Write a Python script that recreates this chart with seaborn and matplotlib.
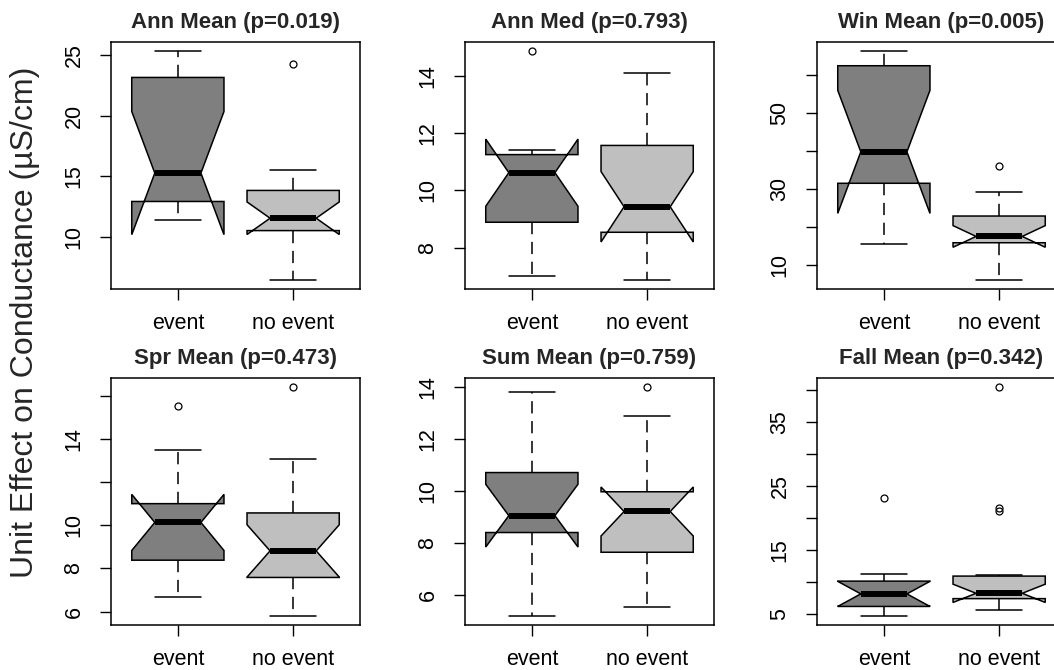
import numpy as np
import pandas as pd
import matplotlib
matplotlib.use("Agg")
import matplotlib.pyplot as plt
import seaborn as sns

# groups and panel titles
groups = ["event", "no event"]
titles = ["Ann Mean (p=0.019)", "Ann Med (p=0.793)", "Win Mean (p=0.005)",
          "Spr Mean (p=0.473)", "Sum Mean (p=0.759)", "Fall Mean (p=0.342)"]

ann_mean_event = [11.4, 12.2, 12.9, 13.06, 14.6, 15.96, 22.9, 23.25, 24.1, 25.33]
ann_mean_none = [6.48, 8.9, 9.8, 10.4, 10.68, 11.0, 11.3, 11.56, 12.2, 12.9,
                 13.6, 14.1, 14.9, 15.56, 24.23]
ann_med_event = [7.03, 8.1, 8.85, 9.01, 10.5, 10.74, 11.19, 11.27, 11.42, 14.86]
ann_med_none = [6.88, 7.6, 8.2, 8.45, 8.63, 8.9, 9.2, 9.43, 9.9, 10.6,
                11.4, 11.74, 12.3, 13.0, 14.11]
win_mean_event = [15.6, 24.0, 31.62, 35.5, 39.89, 50.2, 62.56, 64.8, 66.4]
win_mean_none = [6.2, 11.5, 14.8, 15.8, 16.14, 16.6, 17.1, 17.63, 18.5, 20.2,
                 22.6, 23.4, 25.1, 29.3, 36.2]
spr_mean_event = [6.68, 7.6, 8.34, 8.5, 9.9, 10.36, 10.94, 11.02, 13.49, 15.52]
spr_mean_none = [5.8, 6.6, 7.2, 7.5, 7.66, 8.1, 8.5, 8.81, 9.3, 9.9,
                 10.4, 10.74, 11.6, 13.06, 16.4]
sum_mean_event = [5.19, 7.1, 8.4, 8.8, 9.05, 9.7, 10.71, 12.2, 13.83]
sum_mean_none = [5.53, 6.4, 7.1, 7.5, 7.78, 8.4, 8.9, 9.21, 9.4, 9.7,
                 9.86, 10.08, 11.2, 12.87, 14.0]
fall_mean_event = [4.68, 5.6, 6.1, 6.3, 7.7, 8.52, 10.05, 10.12, 11.16, 23.1]
fall_mean_none = [5.63, 6.5, 7.1, 7.3, 7.44, 7.7, 7.9, 8.2, 8.9, 9.8,
                  10.78, 11.0, 21.0, 21.5, 40.4]

panels = [(ann_mean_event, ann_mean_none), (ann_med_event, ann_med_none),
          (win_mean_event, win_mean_none), (spr_mean_event, spr_mean_none),
          (sum_mean_event, sum_mean_none), (fall_mean_event, fall_mean_none)]

# y ticks (R drops labels that would overlap)
yticks = [[10, 15, 20, 25], [8, 10, 12, 14], [10, 20, 30, 40, 50, 60],
          [6, 8, 10, 12, 14, 16], [6, 8, 10, 12, 14], [5, 10, 15, 20, 25, 30, 35, 40]]
ylabels = [["10", "15", "20", "25"], ["8", "10", "12", "14"],
           ["10", "", "30", "", "50", ""], ["6", "8", "10", "", "14", ""],
           ["6", "8", "10", "12", "14"], ["5", "", "15", "", "25", "", "35", ""]]

colors = ["#7F7F7F", "#BFBFBF"]

sns.set_theme(style="ticks")
plt.rcParams["font.family"] = ["Liberation Sans", "DejaVu Sans"]

fig = plt.figure(figsize=(10.54, 6.7), dpi=100)
W, H = 1054.0, 670.0
lefts = [111, 465, 817]
tops = [42, 378]
pw, ph = 249, 247

for i, (ev, ne) in enumerate(panels):
    r, c = divmod(i, 3)
    ax = fig.add_axes([lefts[c] / W, 1 - (tops[r] + ph) / H, pw / W, ph / H])
    df = pd.DataFrame({"group": [groups[0]] * len(ev) + [groups[1]] * len(ne),
                       "value": ev + ne})
    sns.boxplot(data=df, x="group", y="value", hue="group", palette=colors,
                order=groups, hue_order=groups, legend=False, ax=ax,
                notch=True, width=0.8, saturation=1, linecolor="black",
                linewidth=1.1,
                whiskerprops=dict(linestyle=(0, (8, 5))),
                medianprops=dict(linewidth=4.3, color="black", solid_capstyle="butt"),
                flierprops=dict(marker="o", markerfacecolor="none",
                                markeredgecolor="black", markersize=5,
                                markeredgewidth=0.9))
    vals = np.array(ev + ne)
    lo, hi = vals.min(), vals.max()
    pad = 0.04 * (hi - lo)
    ax.set_ylim(lo - pad, hi + pad)
    ax.set_xlim(-0.58, 1.58)
    ax.set_yticks(yticks[i])
    ax.set_yticklabels(ylabels[i], rotation=90, va="center")
    ax.set_xlabel("")
    ax.set_ylabel("")
    ax.set_title(titles[i], fontsize=16, fontweight="bold", pad=10)
    ax.tick_params(axis="both", direction="out", length=8, width=1,
                   labelsize=15.5, colors="black")
    ax.tick_params(axis="y", pad=11)
    ax.tick_params(axis="x", pad=9)
    for s in ax.spines.values():
        s.set_visible(True)
        s.set_linewidth(1.1)
        s.set_color("black")

fig.text(25 / W, 1 - 322 / H, "Unit Effect on Conductance (µS/cm)",
         rotation=90, va="center", ha="center", fontsize=23)

fig.savefig("out.png", dpi=100)
